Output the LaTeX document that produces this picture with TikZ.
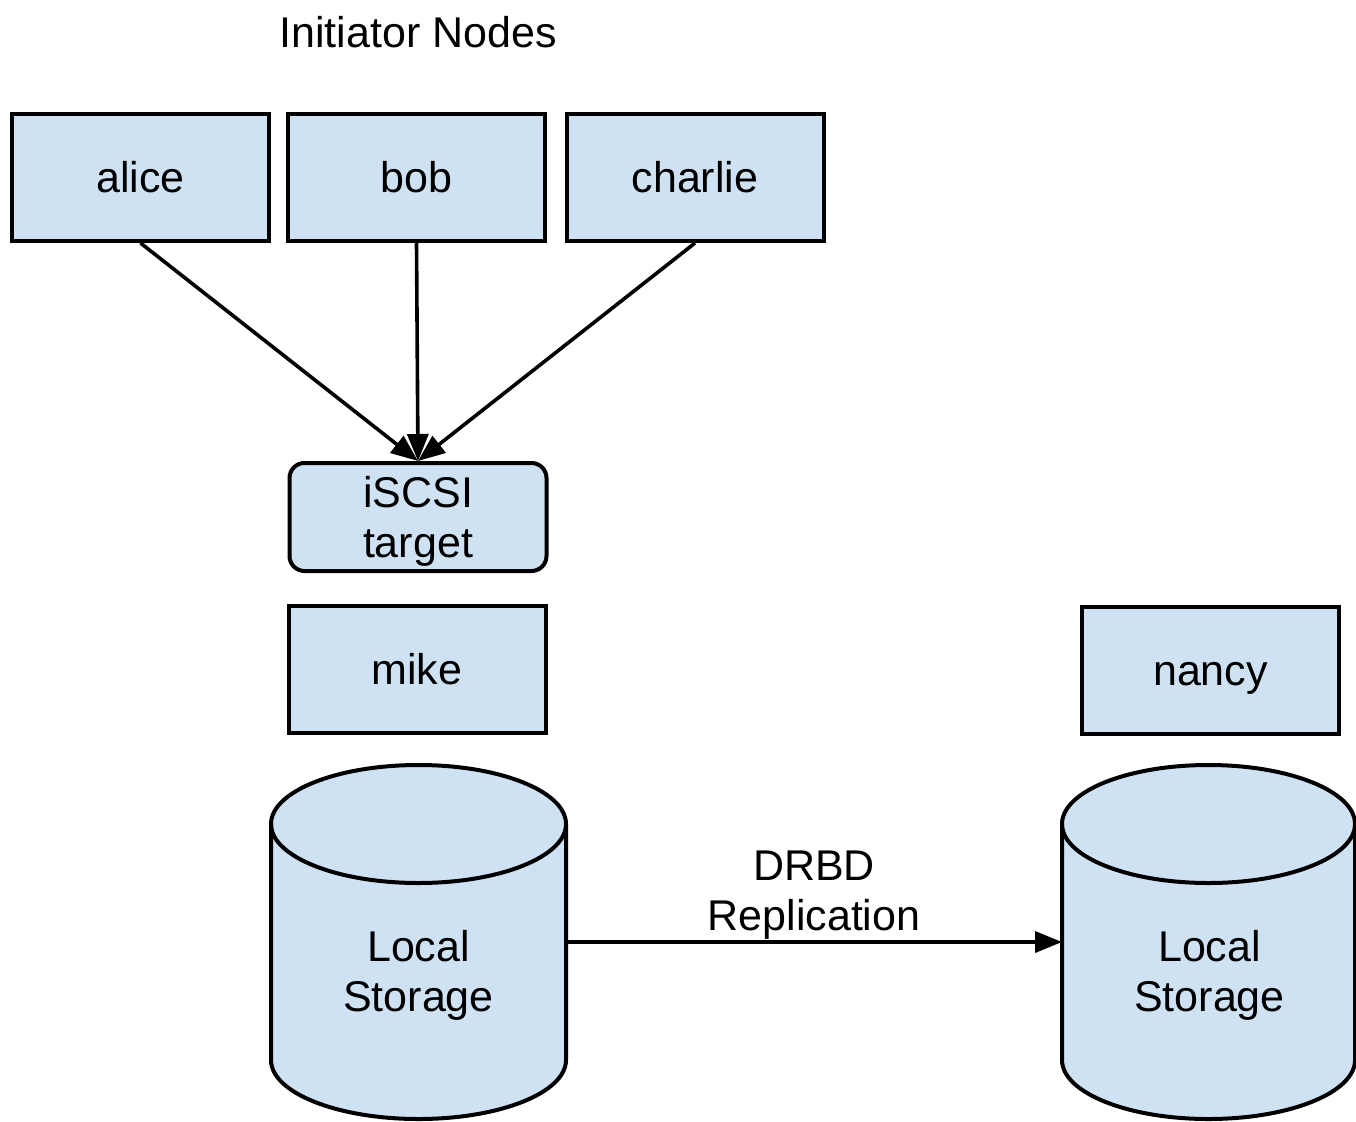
\documentclass[tikz,border=0pt]{standalone}
\usepackage{fontspec}
\setmainfont{Liberation Sans}
\usetikzlibrary{arrows.meta}
\definecolor{boxfill}{HTML}{CFE2F3}
\tikzset{
  label text/.style={font=\fontsize{43}{50}\selectfont, text=black, align=center},
  hostbox/.style={draw=black, line width=4pt, fill=boxfill, inner sep=0pt,
    minimum width=257pt, minimum height=127pt, label text,
    text height=35pt, text depth=5pt},
  targetbox/.style={draw=black, line width=4pt, fill=boxfill, inner sep=0pt,
    minimum width=257pt, minimum height=108pt, label text, rounded corners=15pt},
  diskbody/.style={draw=none, inner sep=0pt, outer sep=0pt},
  disk/.style={draw=black, line width=4pt, fill=boxfill, line join=round},
  link/.style={line width=3.6pt, -{Triangle[length=27pt,width=21pt]}},
}
% storage cylinder: #1 = centre x, #2 = x radius
\newcommand{\storagedisk}[2]{%
  \path[disk] ({#1-#2},824) -- ({#1-#2},1060)
    arc[start angle=180, end angle=360, x radius=#2pt, y radius=59pt]
    -- ({#1+#2},824)
    arc[start angle=0, end angle=180, x radius=#2pt, y radius=59pt] -- cycle;
  \draw[disk, fill=none] ({#1-#2},824)
    arc[start angle=180, end angle=360, x radius=#2pt, y radius=59pt];
}
\begin{document}
\begin{tikzpicture}[x=1pt, y=-1pt]
  \useasboundingbox (0,0) rectangle (1356,1121);

  \node[label text] (title) at (418,32) {Initiator Nodes};

  \node[hostbox] (alice)   at (140.5,177.5) {alice};
  \node[hostbox] (bob)     at (416.5,177.5) {bob};
  \node[hostbox] (charlie) at (695,177.5)   {charlie};

  \node[targetbox] (target) at (418,517) {};
  \node[label text] (targettext) at (418,521) {iSCSI\\target};

  \node[hostbox] (mike)  at (417,669.5)  {mike};
  \node[hostbox] (nancy) at (1210.5,670) {nancy};

  \storagedisk{418.5}{147.5}
  \storagedisk{1208.5}{146.5}
  \node[diskbody, minimum width=295pt, minimum height=236pt] (disk1) at (418.5,942) {};
  \node[diskbody, minimum width=293pt, minimum height=236pt] (disk2) at (1208.5,942) {};
  \node[label text] (store1) at (418.5,975) {Local\\Storage};
  \node[label text] (store2) at (1209.5,975) {Local\\Storage};

  \draw[link] (alice.south)   -- (target.north);
  \draw[link] (bob.south)     -- (target.north);
  \draw[link] (charlie.south) -- (target.north);

  \draw[link] (disk1.east) -- (disk2.west);
  \node[label text] (drbd) at (814,895) {DRBD\\Replication};
\end{tikzpicture}
\end{document}
